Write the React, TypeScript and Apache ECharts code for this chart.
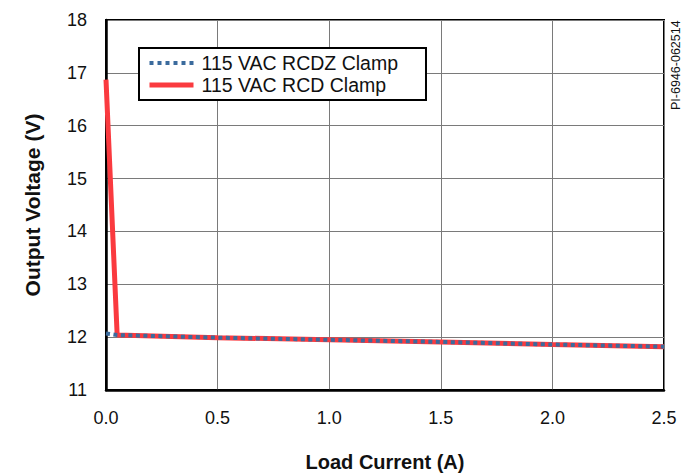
import React, { useEffect, useRef } from "react";
import * as echarts from "echarts";

// Load current (A) sample points
const rcdzCurrent = [0, 0.05, 0.5, 1.0, 1.5, 2.0, 2.5];
// Output voltage (V) for the RCDZ clamp
const rcdzVoltage = [12.07, 12.04, 11.99, 11.95, 11.91, 11.86, 11.82];

const rcdCurrent = [0, 0.05, 0.5, 1.0, 1.5, 2.0, 2.5];
// Output voltage (V) for the RCD clamp
const rcdVoltage = [16.87, 12.04, 11.99, 11.95, 11.91, 11.86, 11.82];

const seriesNames = ["115 VAC RCDZ Clamp", "115 VAC RCD Clamp"];
const docId = "PI-6946-062514";

const FONT = "'Liberation Sans', Arial, Helvetica, sans-serif";
const RED = "#fa3a3f";
const BLUE = "#3b6b9d";

export default function App() {
  const ref = useRef<HTMLDivElement>(null);

  useEffect(() => {
    if (!ref.current) return;
    const chart = echarts.init(ref.current, null, { renderer: "svg" });
    const pairs = (xs: number[], ys: number[]) => xs.map((x, i) => [x, ys[i]]);

    chart.setOption({
      animation: false,
      backgroundColor: "#ffffff",
      textStyle: { fontFamily: FONT },
      grid: {
        left: 106,
        top: 20,
        right: 18,
        bottom: 83,
        outerBoundsMode: "none",
        show: true,
        borderColor: "#000",
        borderWidth: 2,
      },
      legend: {
        data: [
          {
            name: seriesNames[0],
            lineStyle: { color: BLUE, width: 4, type: [4, 4], cap: "butt" },
          },
          {
            name: seriesNames[1],
            lineStyle: { color: RED, width: 5 },
          },
        ],
        orient: "vertical",
        left: 139,
        top: 48,
        padding: [5, 28, 5, 8],
        itemWidth: 44,
        itemHeight: 14,
        itemGap: 2,
        borderColor: "#000",
        borderWidth: 2,
        backgroundColor: "#fff",
        itemStyle: { opacity: 0, borderWidth: 0 },
        textStyle: { fontSize: 19.5, color: "#111", fontFamily: FONT, padding: [0, 0, 0, 3] },
      },
      xAxis: {
        type: "value",
        min: 0,
        max: 2.5,
        interval: 0.5,
        name: "Load Current (A)",
        nameLocation: "middle",
        nameGap: 62,
        nameTextStyle: { fontSize: 20, fontWeight: "bold", color: "#111", fontFamily: FONT },
        axisLine: { show: true, lineStyle: { color: "#000", width: 2.5 } },
        axisTick: { show: false },
        axisLabel: {
          fontSize: 18,
          color: "#111",
          margin: 19,
          fontFamily: FONT,
          formatter: (v: number) => v.toFixed(1),
        },
        splitLine: { show: true, lineStyle: { color: "#7a7a7a", width: 1 } },
      },
      yAxis: {
        type: "value",
        min: 11,
        max: 18,
        interval: 1,
        name: "Output Voltage (V)",
        nameLocation: "middle",
        nameGap: 63,
        nameTextStyle: { fontSize: 21, fontWeight: "bold", color: "#111", fontFamily: FONT },
        axisLine: { show: true, lineStyle: { color: "#000", width: 2.5 } },
        axisTick: { show: false },
        axisLabel: { fontSize: 18, color: "#111", margin: 19, fontFamily: FONT },
        splitLine: { show: true, lineStyle: { color: "#7a7a7a", width: 1 } },
      },
      graphic: [
        {
          type: "text",
          x: 669,
          y: 110,
          rotation: Math.PI / 2,
          style: {
            text: docId,
            fontSize: 12.5,
            fill: "#111",
            fontFamily: FONT,
            textAlign: "left",
            textVerticalAlign: "top",
          },
        },
      ],
      series: [
        {
          name: seriesNames[1],
          type: "line",
          data: pairs(rcdCurrent, rcdVoltage),
          showSymbol: false,
          symbol: "none",
          color: RED,
          lineStyle: { color: RED, width: 5 },
          z: 2,
        },
        {
          name: seriesNames[0],
          type: "line",
          data: pairs(rcdzCurrent, rcdzVoltage),
          showSymbol: false,
          symbol: "none",
          color: BLUE,
          lineStyle: { color: BLUE, width: 4, type: [4, 3.5], cap: "butt" },
          z: 3,
        },
      ],
    });

    return () => chart.dispose();
  }, []);

  return (
    <div
      ref={ref}
      style={{ position: "fixed", left: 0, top: 0, width: 682, height: 473 }}
    />
  );
}
